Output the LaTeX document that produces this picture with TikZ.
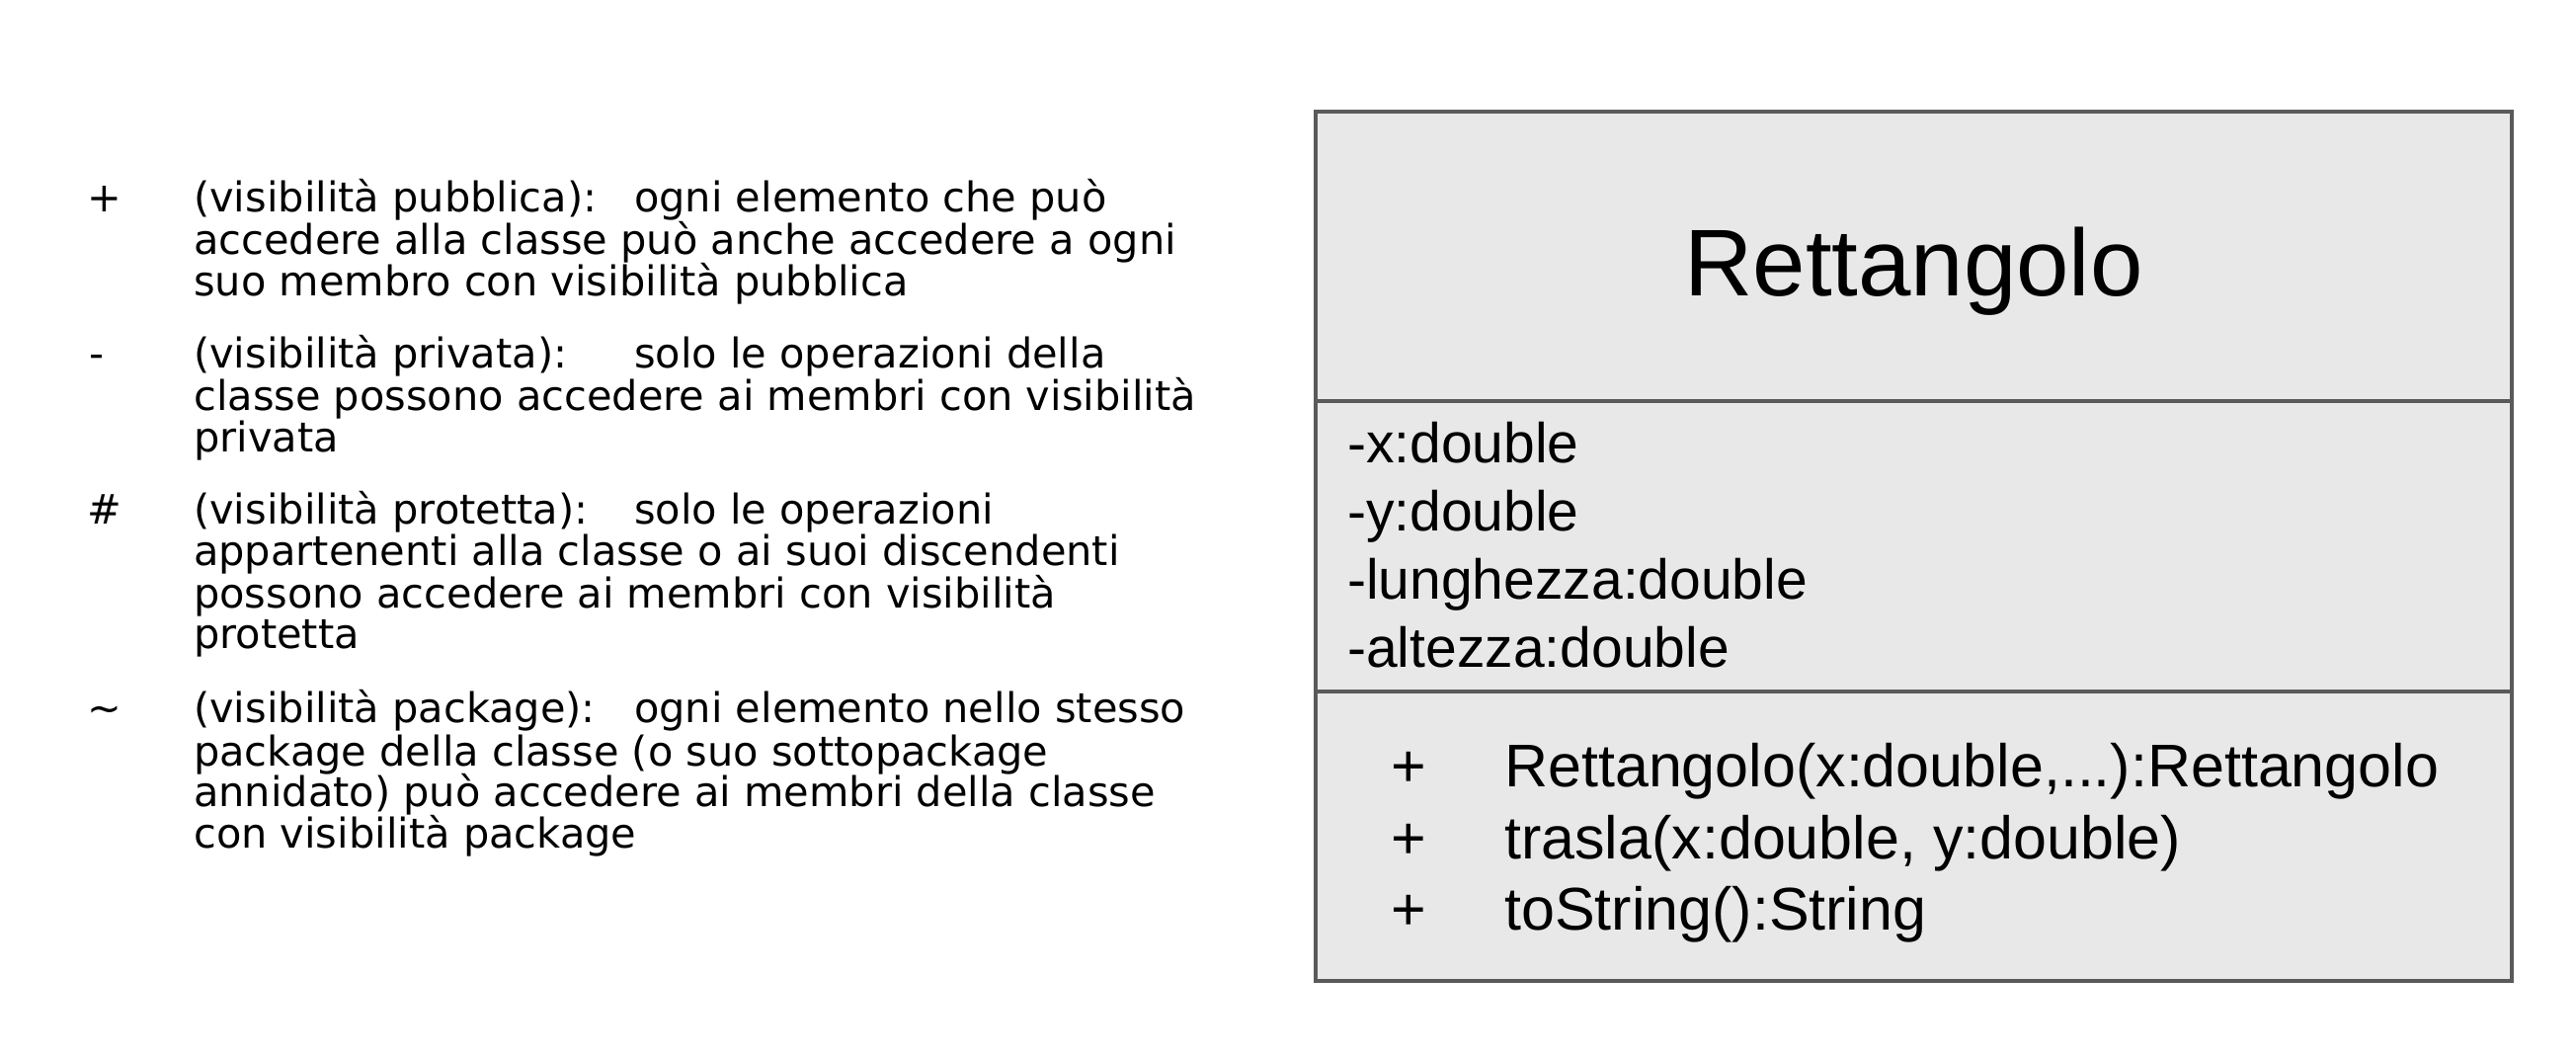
\documentclass[tikz,border=0pt]{standalone}
\usepackage{fontspec}
\setmainfont{Liberation Sans}
\newfontfamily\djv{DejaVu Sans}
\definecolor{boxfill}{HTML}{E8E8E8}
\definecolor{boxline}{HTML}{5A5A5A}
\begin{document}
\begin{tikzpicture}[x=1pt,y=-1pt,
  lt/.style={anchor=base west,inner sep=0pt,font=\djv\fontsize{41.5}{42.5}\selectfont},
  mk/.style={anchor=base,inner sep=0pt,font=\djv\fontsize{41.5}{42.5}\selectfont},
  attrtxt/.style={anchor=base west,inner sep=0pt,font=\fontsize{57}{60}\selectfont},
  methtxt/.style={anchor=base west,inner sep=0pt,font=\fontsize{61}{64}\selectfont},
  methmk/.style={anchor=base,inner sep=0pt,font=\fontsize{61}{64}\selectfont},
  titletxt/.style={anchor=base,inner sep=0pt,font=\fontsize{96}{100}\selectfont},
  clsbox/.style={fill=boxfill,draw=boxline,line width=3.5pt},
  clsline/.style={draw=boxline,line width=3.5pt}]
\useasboundingbox (0,0) rectangle (2608,1070);
\fill[white] (0,0) rectangle (2608,1070);

% ---- legend ----
\node[mk] (m1) at (106,214.5) {+};
\node[lt] (p1a) at (196,214.5) {(visibilità pubblica):};
\node[lt] (p1b) at (642,214.5) {ogni elemento che può};
\node[lt] (p1c) at (196,257.8) {accedere alla classe può anche accedere a ogni};
\node[lt] (p1d) at (196,299.3) {suo membro con visibilità pubblica};

\node[mk] (m2) at (98,372.5) {-};
\node[lt] (p2a) at (196,372.5) {(visibilità privata):};
\node[lt] (p2b) at (642,372.5) {solo le operazioni della};
\node[lt] (p2c) at (196,415.8) {classe possono accedere ai membri con visibilità};
\node[lt] (p2d) at (196,457.3) {privata};

\node[mk] (m3) at (106,530.5) {\#};
\node[lt] (p3a) at (196,530.5) {(visibilità protetta):};
\node[lt] (p3b) at (642,530.5) {solo le operazioni};
\node[lt] (p3c) at (196,572) {appartenenti alla classe o ai suoi discendenti};
\node[lt] (p3d) at (196,615.3) {possono accedere ai membri con visibilità};
\node[lt] (p3e) at (196,656.9) {protetta};

\node[mk] (m4) at (106,731.7) {\textasciitilde};
\node[lt] (p4a) at (196,731.7) {(visibilità package):};
\node[lt] (p4b) at (642,731.7) {ogni elemento nello stesso};
\node[lt] (p4c) at (196,775) {package della classe (o suo sottopackage};
\node[lt] (p4d) at (196,816.5) {annidato) può accedere ai membri della classe};
\node[lt] (p4e) at (196,858.1) {con visibilità package};

% ---- class box ----
\coordinate (tl) at (1332,113);
\coordinate (br) at (2543,993);
\coordinate (d1l) at (1332,406);
\coordinate (d1r) at (2543,406);
\coordinate (d2l) at (1332,700);
\coordinate (d2r) at (2543,700);
\draw[clsbox] (tl) rectangle (br);
\draw[clsline] (d1l) -- (d1r);
\draw[clsline] (d2l) -- (d2r);

\node[titletxt] (title) at (1937.5,299) {Rettangolo};

\node[attrtxt] (a1) at (1364,468.8) {-x:double};
\node[attrtxt] (a2) at (1364,537.6) {-y:double};
\node[attrtxt] (a3) at (1364,606.4) {-lunghezza:double};
\node[attrtxt] (a4) at (1364,675) {-altezza:double};

\node[methmk] (o1m) at (1426,796.7) {+};
\node[methtxt] (o1) at (1523,796.7) {Rettangolo(x:double,...):Rettangolo};
\node[methmk] (o2m) at (1426,869) {+};
\node[methtxt] (o2) at (1523,869) {trasla(x:double, y:double)};
\node[methmk] (o3m) at (1426,941.7) {+};
\node[methtxt] (o3) at (1523,941.7) {toString():String};
\end{tikzpicture}
\end{document}
